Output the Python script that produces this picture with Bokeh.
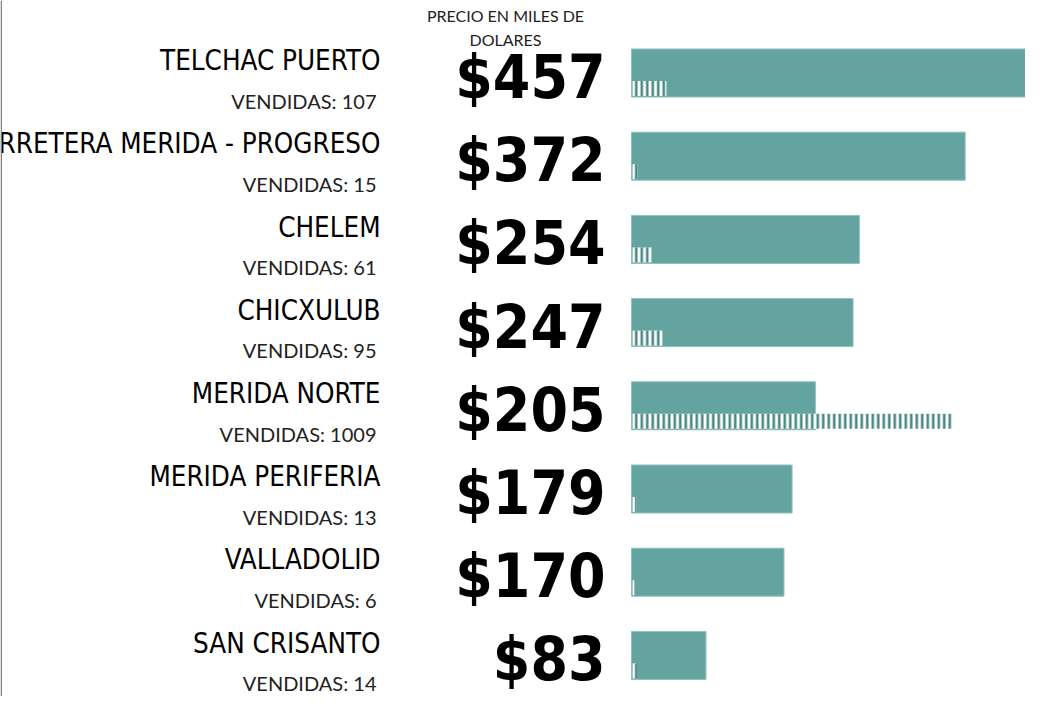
from bokeh.plotting import figure
from bokeh.models import ColumnDataSource, Range1d, Span
from bokeh.core.properties import value
from bokeh.embed import file_html
from bokeh.resources import INLINE

# ---- data ----
categories = ["TELCHAC PUERTO", "CARRETERA MERIDA - PROGRESO", "CHELEM", "CHICXULUB",
              "MERIDA NORTE", "MERIDA PERIFERIA", "VALLADOLID", "SAN CRISANTO"]
prices = [457, 372, 254, 247, 205, 179, 170, 83]
sold = [107, 15, 61, 95, 1009, 13, 6, 14]
title_lines = ["PRECIO EN MILES DE", "DOLARES"]

# ---- layout / style ----
W, H = 1025, 696
PX = 0.897            # pixels per price unit
ROW = 83.2            # pixels per row
C0 = 72.5             # pixel centre of first row
X0PX = 631            # pixel where price 0 sits
COUNT_SCALE = 0.3536  # price units per sold home (strip length)
TEAL = "#64a4a0"
DARK = "#4a8983"
BF = 0.41             # baseline correction (fraction of font size)

CAT_FS, SOLD_FS, PRICE_FS, TITLE_FS = 27.5, 20, 60, 16

x0 = -X0PX / PX
x1 = x0 + W / PX
y_top = -C0 / ROW
y_bot = y_top + H / ROW

def xu(px):
    return (px - X0PX) / PX

def yu(off):
    return off / ROW

idx = list(range(len(categories)))
src = ColumnDataSource(dict(
    y=idx,
    cat=categories,
    price=prices,
    price_lbl=[f"${v}" for v in prices],
    sold=sold,
    sold_lbl=[f"VENDIDAS: {v}" for v in sold],
    strip_right=[1.1 + v * COUNT_SCALE for v in sold],
    y_cat=[i + yu(-1.5 - BF * CAT_FS) for i in idx],
    y_sold=[i + yu(36 - BF * SOLD_FS) for i in idx],
    y_price=[i + yu(28.5 - BF * PRICE_FS) for i in idx],
    y_strip=[i + yu(15.5) for i in idx],
))

p = figure(width=W, height=H, output_backend="svg", toolbar_location=None,
           x_range=Range1d(x0, x1), y_range=Range1d(y_bot, y_top),
           min_border=0, min_border_left=0, min_border_right=0,
           min_border_top=0, min_border_bottom=0)
p.axis.visible = False
p.grid.visible = False
p.outline_line_color = None
p.background_fill_color = "white"
p.border_fill_color = "white"

# bars
p.hbar(y="y", left=0, right="price", height=48 / ROW, source=src,
       fill_color=TEAL, line_color="#8fc0bc", line_width=1)

# sold strips
p.hbar(y="y_strip", left=1.1, right="strip_right", height=15 / ROW, source=src,
       fill_color="white", line_color=None,
       hatch_pattern="|", hatch_color=DARK, hatch_weight=2.6, hatch_scale=5.5)

# category labels
p.text(x=xu(380), y="y_cat", text="cat", source=src,
       text_font=value("DejaVu Sans Condensed"), text_font_size=f"{CAT_FS}px",
       text_align="right", text_baseline="alphabetic", text_color="black")

# sold labels
p.text(x=xu(376), y="y_sold", text="sold_lbl", source=src,
       text_font=value("Lato"), text_font_size=f"{SOLD_FS}px",
       text_align="right", text_baseline="alphabetic", text_color="#222222")

# price labels
p.text(x=xu(605), y="y_price", text="price_lbl", source=src,
       text_font=value("DejaVu Sans Condensed"), text_font_size=f"{PRICE_FS}px",
       text_font_style="bold",
       text_align="right", text_baseline="alphabetic", text_color="black")

# header
p.text(x=[xu(505)] * 2,
       y=[yu(22 - BF * TITLE_FS - C0), yu(46 - BF * TITLE_FS - C0)],
       text=title_lines,
       text_font=value("Lato"), text_font_size=f"{TITLE_FS}px",
       text_align="center", text_baseline="alphabetic", text_color="#222222")

# left border line
p.add_layout(Span(location=x0 + 0.8, dimension="height",
                  line_color="#808080", line_width=1.5))

open("out.html", "w").write(file_html(p, INLINE))
